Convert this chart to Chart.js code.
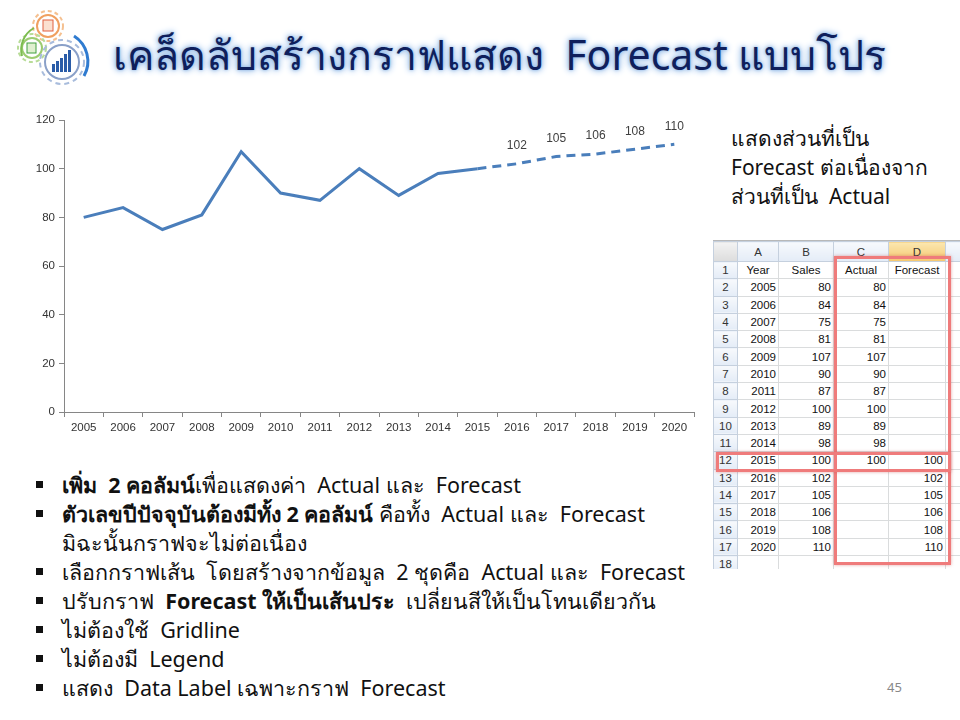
<!DOCTYPE html>
<html><head><meta charset="utf-8">
<script src="https://cdn.jsdelivr.net/npm/chart.js@4/dist/chart.umd.min.js"></script>
<style>
html,body{margin:0;padding:0;background:#fff;}
body{width:960px;height:720px;position:relative;overflow:hidden;font-family:"Noto Sans","DejaVu Sans",sans-serif;}
#title{position:absolute;left:113px;top:23px;font-size:41px;color:#0f1f5c;white-space:nowrap;
 text-shadow:0 0 3px #8db6e6,0 0 6px #8db6e6,0 0 8px #b7d2f0;}
#chartBox{position:absolute;left:20px;top:105px;width:680px;height:335px;}
#note{position:absolute;left:731px;top:124px;font-size:21px;line-height:29px;color:#111;}
#bul{position:absolute;left:36px;top:470px;font-size:21.5px;line-height:29px;color:#111;margin:0;padding:0;list-style:none;}
#bul li{position:relative;padding-left:26px;white-space:nowrap;}
#bul li:before{content:"";position:absolute;left:0;top:11px;width:7px;height:7px;background:#111;}
#bul li.nb:before{display:none}
#pg{position:absolute;left:887px;top:678px;font-size:13px;color:#888;}
#sheet{position:absolute;left:713px;top:240px;width:247px;height:328px;overflow:hidden;border-top:1px solid #b8b8b8;}
#sheet table{border-collapse:collapse;font-family:"Liberation Sans",Arial,sans-serif;font-size:11.5px;color:#111;table-layout:fixed;width:282px;}
#sheet td{border:1px solid #dadcdd;height:16.3px;padding:0 2px;overflow:hidden;white-space:nowrap;text-align:right;}
#sheet td.h{background:linear-gradient(#f7f9fc,#e4ecf7);color:#333;text-align:center;border-color:#c5d0de;}
#sheet td.hd{background:linear-gradient(#fbe7b0,#f5c870);}
#sheet td.c{text-align:center;}
.box{position:absolute;border:3px solid #ef7b7b;box-shadow:0 0 3px rgba(200,80,80,0.5);}
</style></head>
<body>
<svg style="position:absolute;left:12px;top:6px" width="90" height="85" viewBox="0 0 90 85">
 <g fill="none" stroke-width="2">
  <circle cx="36" cy="20" r="11" stroke="#f0a060"/>
  <circle cx="36" cy="20" r="15" stroke="#f5c090" stroke-dasharray="4 3"/>
  <rect x="31" y="14" width="10" height="11" fill="#fbe0d0" stroke="#e06040" stroke-width="1"/>
  <circle cx="20" cy="42" r="10" stroke="#9ccc70"/>
  <circle cx="20" cy="42" r="14" stroke="#b8dc98" stroke-dasharray="4 3"/>
  <rect x="15" y="37" width="9" height="10" fill="#e0f0d0" stroke="#40a040" stroke-width="1"/>
  <circle cx="50" cy="56" r="17" stroke="#8aa0c8"/>
  <circle cx="50" cy="56" r="22" stroke="#a8bcdc" stroke-dasharray="5 4"/>
  <path d="M62 30 A30 30 0 0 1 72 70" stroke="#2f7bd0" stroke-width="3"/>
  <path d="M10 50 A25 25 0 0 1 22 22" stroke="#7cbc50" stroke-width="2"/>
 </g>
 <g fill="#2a5ca8"><rect x="40" y="58" width="3" height="8"/><rect x="44" y="55" width="3" height="11"/><rect x="48" y="52" width="3" height="14"/><rect x="52" y="48" width="3" height="18"/><rect x="56" y="44" width="3" height="22"/></g>
</svg>
<div id="title">เคล็ดลับสร้างกราฟแสดง&nbsp; Forecast แบบโปร</div>
<div id="chartBox"><canvas id="c"></canvas></div>
<div id="note">แสดงส่วนที่เป็น<br>Forecast ต่อเนื่องจาก<br>ส่วนที่เป็น&nbsp; Actual</div>
<div id="sheet"><table id="tbl"></table></div>
<div class="box" style="left:834px;top:256px;width:111px;height:303px;"></div>
<div class="box" style="left:716px;top:452px;width:229px;height:14px;"></div>
<ul id="bul">
<li><b>เพิ่ม&nbsp; 2 คอลัมน์</b>เพื่อแสดงค่า&nbsp; Actual และ&nbsp; Forecast</li>
<li><b>ตัวเลขปีปัจจุบันต้องมีทั้ง 2 คอลัมน์</b> คือทั้ง&nbsp; Actual และ&nbsp; Forecast</li>
<li class="nb">มิฉะนั้นกราฟจะไม่ต่อเนื่อง</li>
<li>เลือกกราฟเส้น&nbsp; โดยสร้างจากข้อมูล&nbsp; 2 ชุดคือ&nbsp; Actual และ&nbsp; Forecast</li>
<li>ปรับกราฟ&nbsp; <b>Forecast ให้เป็นเส้นประ</b>&nbsp; เปลี่ยนสีให้เป็นโทนเดียวกัน</li>
<li>ไม่ต้องใช้&nbsp; Gridline</li>
<li>ไม่ต้องมี&nbsp; Legend</li>
<li>แสดง&nbsp; Data Label เฉพาะกราฟ&nbsp; Forecast</li>
</ul>
<div id="pg">45</div>
<script>
const years = ['2005','2006','2007','2008','2009','2010','2011','2012','2013','2014','2015','2016','2017','2018','2019','2020'];
const sales = [80,84,75,81,107,90,87,100,89,98,100,102,105,106,108,110];
const actual = [80,84,75,81,107,90,87,100,89,98,100,null,null,null,null,null];
const forecast = [null,null,null,null,null,null,null,null,null,null,100,102,105,106,108,110];
const yTicks = [0,20,40,60,80,100,120];
const colLetters = ['A','B','C','D',''];
const colHeads = ['Year','Sales','Actual','Forecast',''];

// build sheet
const tbl=document.getElementById('tbl');
const widths=[24,41,55,55,57,50];
let cg='<colgroup>'+widths.map(w=>'<col style="width:'+w+'px">').join('')+'</colgroup>';
let h='<tr style="height:20px"><td class="h" style="background:linear-gradient(#f3f3f3,#dcdcdc)"></td>'+colLetters.map((l,i)=>'<td class="h'+(i===3?' hd':'')+'">'+l+'</td>').join('')+'</tr>';
h+='<tr><td class="h">1</td>'+colHeads.map(t=>'<td class="c">'+t+'</td>').join('')+'</tr>';
years.forEach((y,i)=>{
 h+='<tr><td class="h">'+(i+2)+'</td><td>'+y+'</td><td>'+sales[i]+'</td><td>'+(actual[i]??'')+'</td><td>'+(forecast[i]??'')+'</td><td></td></tr>';
});
h+='<tr><td class="h">18</td><td></td><td></td><td></td><td></td><td></td></tr>';
tbl.innerHTML=cg+h;

const blue='#4a7ebb';
const labelPlugin={
 id:'fcLabels',
 afterDatasetsDraw(chart){
  const ctx=chart.ctx, meta=chart.getDatasetMeta(1);
  ctx.save();
  ctx.font='12px "Liberation Sans", Arial, sans-serif';
  ctx.fillStyle='#404040';ctx.textAlign='center';ctx.textBaseline='middle';
  forecast.forEach((v,i)=>{
   if(v===null || actual[i]!==null) return;
   const p=meta.data[i];
   ctx.fillText(String(v),p.x,p.y-18);
  });
  ctx.restore();
 }
};
new Chart(document.getElementById('c'),{
 type:'line',
 data:{labels:years,datasets:[
  {label:'Actual',data:actual,borderColor:blue,borderWidth:3,pointRadius:0,tension:0,fill:false},
  {label:'Forecast',data:forecast,borderColor:blue,borderWidth:3,borderDash:[9,6],pointRadius:0,tension:0,fill:false}
 ]},
 options:{
  responsive:true,maintainAspectRatio:false,animation:false,
  layout:{padding:{top:15,right:6,left:0,bottom:0}},
  plugins:{legend:{display:false},tooltip:{enabled:false}},
  scales:{
   x:{offset:true,
      grid:{display:true,offset:true,drawOnChartArea:false,drawTicks:true,tickLength:5,color:'#868686'},
      border:{display:true,color:'#868686',width:1},
      ticks:{color:'#333',font:{size:11.5,family:'"Liberation Sans Narrow","Liberation Sans",Arial'},padding:4,maxRotation:0,autoSkip:false},
      afterFit(s){s.height=28;}},
   y:{min:0,max:120,
      afterBuildTicks(s){s.ticks=yTicks.map(v=>({value:v}));},
      grid:{drawOnChartArea:false,drawTicks:true,tickLength:5,color:'#868686'},
      border:{display:true,color:'#868686',width:1},
      ticks:{color:'#333',font:{size:11.5,family:'"Liberation Sans Narrow","Liberation Sans",Arial'},padding:4},
      afterFit(s){s.width=44;}}
  }
 },
 plugins:[labelPlugin]
});
</script>
</body></html>
